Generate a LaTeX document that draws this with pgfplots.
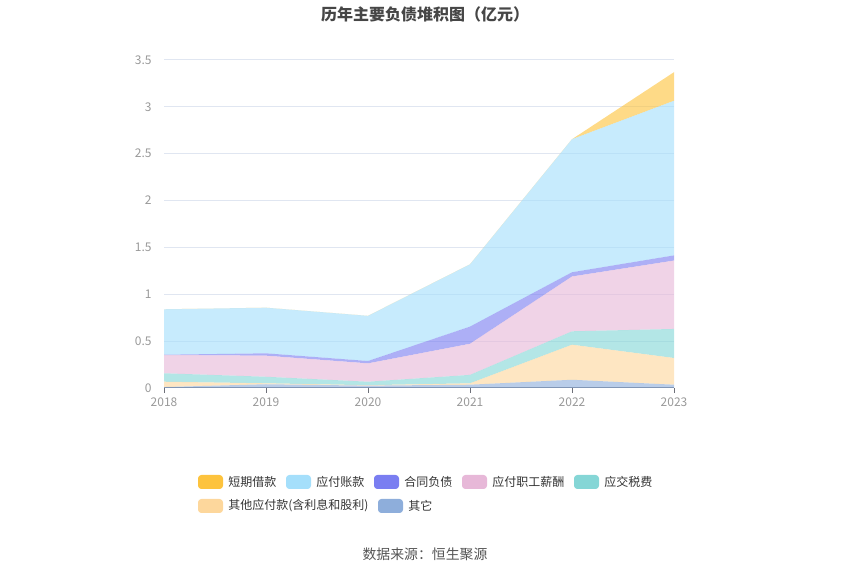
\documentclass[border=0pt]{standalone}
\usepackage{fontspec}
\setmainfont{Noto Sans CJK SC}
\usepackage{pgfplots}
\pgfplotsset{compat=1.18}
\definecolor{cDuanqi}{HTML}{FDC33D}
\definecolor{cZhangkuan}{HTML}{A5DFFB}
\definecolor{cHetong}{HTML}{7A7EF1}
\definecolor{cXinchou}{HTML}{E7B8D8}
\definecolor{cShuifei}{HTML}{85D6D6}
\definecolor{cQitaYF}{HTML}{FDD79C}
\definecolor{cQita}{HTML}{8EAEDB}
\definecolor{gridc}{HTML}{E0E6F1}
\definecolor{tickc}{HTML}{999999}
\definecolor{axisc}{HTML}{6E7079}
\definecolor{titlec}{HTML}{464646}
\definecolor{textc}{HTML}{333333}
\definecolor{srcc}{HTML}{555555}
\begin{document}
\begin{tikzpicture}[x=0.75pt,y=0.75pt]
\useasboundingbox (0,0) rectangle (850,575);
\begin{axis}[
  at={(123pt,140.25pt)}, anchor=south west,
  scale only axis, width=382.5pt, height=246pt,
  xmin=2018, xmax=2023, ymin=0, ymax=3.5,
  stack plots=y,
  axis lines*=left,
  y axis line style={draw=none},
  x axis line style={draw=axisc, line width=0.75pt},
  xtick={2018,2019,2020,2021,2022,2023},
  xticklabels={2018,2019,2020,2021,2022,2023},
  ytick={0,0.5,1,1.5,2,2.5,3,3.5},
  yticklabels={0,0.5,1,1.5,2,2.5,3,3.5},
  ytick style={draw=none},
  xtick style={draw=axisc, line width=0.75pt},
  tick align=outside,
  major tick length=3.75pt,
  ymajorgrids, grid style={draw=gridc, line width=0.75pt},
  ticklabel style={font=\fontsize{9}{9}\selectfont, text=tickc},
  yticklabel style={xshift=-2pt},
  /pgf/number format/assume math mode=true,
  axis on top=false,
  every axis plot/.append style={draw=none, fill opacity=0.62},
]
% 其它
\addplot[fill=cQita] coordinates {(2018,0.01)(2019,0.04)(2020,0.025)(2021,0.035)(2022,0.088)(2023,0.035)} \closedcycle;
% 其他应付款
\addplot[fill=cQitaYF] coordinates {(2018,0.057)(2019,0.01)(2020,0.005)(2021,0.015)(2022,0.374)(2023,0.285)} \closedcycle;
% 应交税费
\addplot[fill=cShuifei] coordinates {(2018,0.09)(2019,0.07)(2020,0.037)(2021,0.09)(2022,0.143)(2023,0.31)} \closedcycle;
% 应付职工薪酬
\addplot[fill=cXinchou] coordinates {(2018,0.195)(2019,0.225)(2020,0.196)(2021,0.332)(2022,0.585)(2023,0.73)} \closedcycle;
% 合同负债
\addplot[fill=cHetong] coordinates {(2018,0.003)(2019,0.025)(2020,0.025)(2021,0.183)(2022,0.045)(2023,0.055)} \closedcycle;
% 应付账款
\addplot[fill=cZhangkuan] coordinates {(2018,0.485)(2019,0.487)(2020,0.482)(2021,0.665)(2022,1.42)(2023,1.65)} \closedcycle;
% 短期借款
\addplot[fill=cDuanqi] coordinates {(2018,0)(2019,0)(2020,0)(2021,0)(2022,0)(2023,0.305)} \closedcycle;
\end{axis}
% title
\node[font=\bfseries\fontsize{12}{12}\selectfont, text=titlec] at (425,561) {历年主要负债堆积图（亿元）};
% legend
\tikzset{lgtext/.style={anchor=west, font=\fontsize{9}{9}\selectfont, text=textc, inner sep=0pt}}
\fill[cDuanqi, rounded corners=2.5pt] (198,86) rectangle (223,100);
\node[lgtext] at (228,93) {短期借款};
\fill[cZhangkuan, rounded corners=2.5pt] (286,86) rectangle (311,100);
\node[lgtext] at (316,93) {应付账款};
\fill[cHetong, rounded corners=2.5pt] (374,86) rectangle (399,100);
\node[lgtext] at (404,93) {合同负债};
\fill[cXinchou, rounded corners=2.5pt] (462,86) rectangle (487,100);
\node[lgtext] at (492,93) {应付职工薪酬};
\fill[cShuifei, rounded corners=2.5pt] (574,86) rectangle (599,100);
\node[lgtext] at (604,93) {应交税费};
\fill[cQitaYF, rounded corners=2.5pt] (198,62) rectangle (223,76);
\node[lgtext] at (228,69) {其他应付款(含利息和股利)};
\fill[cQita, rounded corners=2.5pt] (378,62) rectangle (403,76);
\node[lgtext] at (408,69) {其它};
% source
\node[font=\fontsize{10.4}{10.4}\selectfont, text=srcc] at (425,21) {数据来源：恒生聚源};
\end{tikzpicture}
\end{document}
